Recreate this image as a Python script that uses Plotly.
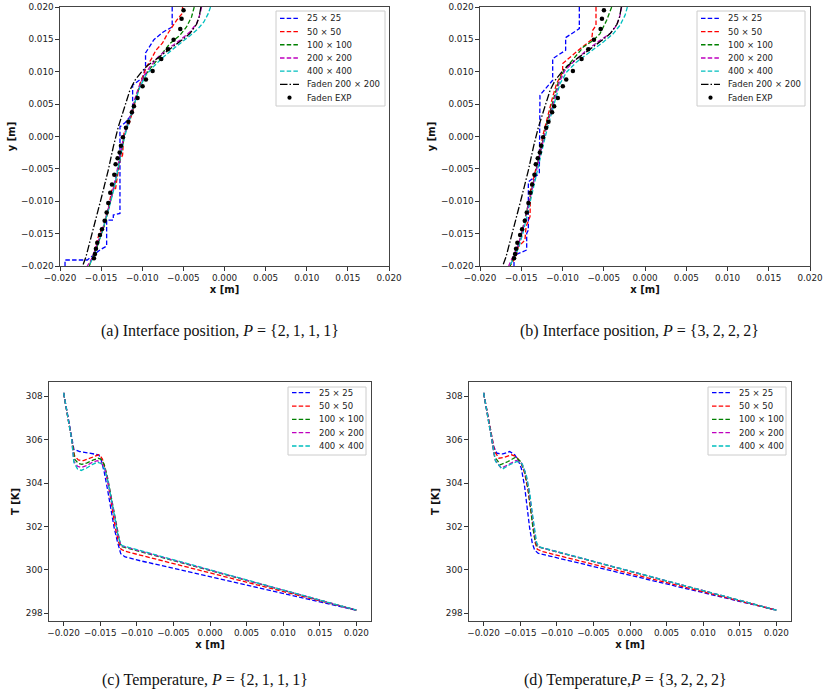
import plotly.graph_objects as go

W, H = 823, 693

# ---------------- data ----------------
SERIES_LABELS = ["25 × 25", "50 × 50", "100 × 100", "200 × 200", "400 × 400"]
FADEN_SIM_LABEL = "Faden 200 × 200"
FADEN_EXP_LABEL = "Faden EXP"
SERIES_COLORS = ["#0000ff", "#ff0000", "#008000", "#bf00bf", "#00bfbf"]

CAPTIONS = [
    "(a) Interface position, <i>P</i> = {2,\u20091,\u20091,\u20091}",
    "(b) Interface position, <i>P</i> = {3,\u20092,\u20092,\u20092}",
    "(c) Temperature, <i>P</i> = {2,\u20091,\u20091,\u20091}",
    "(d) Temperature,<i>P</i> = {3,\u20092,\u20092,\u20092}",
]

# Faden reference data (same in panels a and b)
faden_exp_x = [-0.00498, -0.00522, -0.00538, -0.00619, -0.00688, -0.00769, -0.00874, -0.00955,
               -0.00996, -0.01057, -0.01101, -0.01126, -0.0117, -0.01198, -0.01235, -0.01259,
               -0.01275, -0.013, -0.01324, -0.0134, -0.01368, -0.01389, -0.01413, -0.01433,
               -0.01457, -0.0149, -0.01514, -0.01547, -0.01563, -0.01575, -0.01587]
faden_exp_y = [0.01949, 0.0182, 0.0166, 0.01496, 0.01347, 0.01198, 0.01013, 0.00879,
               0.00776, 0.00596, 0.00468, 0.00375, 0.00226, 0.00134, -0.0001, -0.00144,
               -0.00247, -0.00334, -0.00427, -0.00591, -0.0074, -0.00869, -0.01028, -0.01172,
               -0.013, -0.01434, -0.01522, -0.0164, -0.01733, -0.01815, -0.01881]
faden_sim_x = [-0.00287, -0.00308, -0.0034, -0.00421, -0.00522, -0.00684, -0.00826, -0.00947,
               -0.01008, -0.01089, -0.0115, -0.01291, -0.01352, -0.01413, -0.01494, -0.01555,
               -0.01628, -0.01684, -0.01725]
faden_sim_y = [0.02, 0.01846, 0.01733, 0.01589, 0.01486, 0.01332, 0.01203, 0.01085,
               0.00997, 0.00869, 0.00715, 0.00149, -0.00159, -0.00519, -0.0093, -0.01239,
               -0.01599, -0.01856, -0.02]

# Panel (a): interface position, P = {2,1,1,1}
a25_x = [-0.00636, -0.00636, -0.00745, -0.00858, -0.0096, -0.0096, -0.00992, -0.01117, -0.01117,
         -0.0121, -0.01271, -0.01271, -0.01352, -0.01352, -0.01433, -0.01433, -0.01514, -0.01668,
         -0.01939, -0.01939]
a25_y = [0.02, 0.01692, 0.01614, 0.01496, 0.0129, 0.01085, 0.0091, 0.00792, 0.00355,
         0.00211, 0.00149, -0.01188, -0.01213, -0.0129, -0.0129, -0.01691, -0.01753, -0.01907,
         -0.01907, -0.02]
a50_x = [-0.0051, -0.0051, -0.00583, -0.00636, -0.00704, -0.00753, -0.00834, -0.00887, -0.00947,
         -0.00988, -0.01028, -0.01069, -0.01109, -0.01158, -0.01223, -0.01239, -0.01239, -0.01271,
         -0.01291, -0.01312, -0.01324, -0.01372, -0.01393, -0.01425, -0.01466, -0.01522, -0.01547,
         -0.01587, -0.01628, -0.01636]
a50_y = [0.02, 0.01907, 0.01794, 0.01692, 0.01563, 0.01445, 0.01332, 0.01203, 0.01075,
         0.00946, 0.00817, 0.00612, 0.00406, 0.002, 0.00046, -0.00211, -0.00288, -0.00365,
         -0.00571, -0.00699, -0.00802, -0.00828, -0.00982, -0.01188, -0.01393, -0.01496, -0.01599,
         -0.01805, -0.01933, -0.02]
a100_x = [-0.00368, -0.00401, -0.00462, -0.00543, -0.00664, -0.00785, -0.00887, -0.0098, -0.01036,
          -0.01089, -0.0113, -0.01182, -0.01223, -0.01251, -0.01279, -0.01312, -0.01344, -0.01381,
          -0.01421, -0.01466, -0.01514, -0.01563, -0.01615, -0.01644]
a100_y = [0.02, 0.01846, 0.01692, 0.01563, 0.01434, 0.01229, 0.01075, 0.0092, 0.00766,
          0.0056, 0.00355, 0.00175, -0.00005, -0.00211, -0.00416, -0.00622, -0.00776, -0.00982,
          -0.01188, -0.01393, -0.01573, -0.01753, -0.01907, -0.02]
a200_x = [-0.00279, -0.00296, -0.0034, -0.00421, -0.00543, -0.00684, -0.00806, -0.00907, -0.00988,
          -0.01049, -0.01101, -0.01142, -0.0119, -0.01231, -0.01259, -0.01291, -0.01324, -0.0136,
          -0.01401, -0.01449, -0.01502, -0.01555, -0.01611, -0.01668]
a200_y = [0.02, 0.01897, 0.01743, 0.01614, 0.01486, 0.01357, 0.01229, 0.01075, 0.0092,
          0.0074, 0.00535, 0.00329, 0.00149, -0.00031, -0.00236, -0.00442, -0.00648, -0.00853,
          -0.01059, -0.0129, -0.01496, -0.01702, -0.01882, -0.02]
a400_x = [-0.0017, -0.00198, -0.00251, -0.0032, -0.00413, -0.00522, -0.00644, -0.00765, -0.00866,
          -0.00955, -0.01028, -0.01081, -0.01126, -0.01174, -0.01215, -0.01247, -0.01279, -0.01312,
          -0.01348, -0.01389, -0.01433, -0.01482, -0.01534, -0.01587, -0.01644]
a400_y = [0.02, 0.01897, 0.01769, 0.01666, 0.01563, 0.0146, 0.01332, 0.01203, 0.01075,
          0.00946, 0.00766, 0.0056, 0.00355, 0.00175, -0.00005, -0.00211, -0.00416, -0.00622,
          -0.00828, -0.01033, -0.01239, -0.01445, -0.0165, -0.0183, -0.02]

# Panel (b): interface position, P = {3,2,2,2}
b25_x = [-0.00796, -0.00796, -0.00962, -0.00962, -0.01119, -0.01119, -0.01273, -0.01281, -0.01414,
         -0.01414, -0.01434, -0.01434, -0.01576, -0.01588, -0.01588]
b25_y = [0.02, 0.01666, 0.01527, 0.01332, 0.01203, 0.00869, 0.00638, -0.00571, -0.00699,
         -0.01445, -0.01496, -0.01753, -0.0183, -0.01856, -0.02]
b50_x = [-0.00594, -0.00594, -0.00634, -0.00646, -0.00808, -0.00949, -0.00998, -0.00998, -0.01071,
         -0.01119, -0.0116, -0.012, -0.01232, -0.01265, -0.01305, -0.01345, -0.01386, -0.01394,
         -0.01442, -0.01455, -0.01535, -0.01564, -0.01636]
b50_y = [0.02, 0.01717, 0.0164, 0.01496, 0.01332, 0.01177, 0.01126, 0.00997, 0.00817,
         0.00612, 0.00406, 0.00226, 0.00046, -0.00159, -0.00416, -0.00622, -0.00776, -0.01239,
         -0.01393, -0.01599, -0.01702, -0.01856, -0.02]
b100_x = [-0.00404, -0.00424, -0.00465, -0.00545, -0.00626, -0.00747, -0.00869, -0.00982, -0.0105,
          -0.01103, -0.01152, -0.012, -0.0124, -0.01281, -0.01321, -0.01362, -0.01402, -0.01442,
          -0.01487, -0.01535, -0.01588, -0.01636]
b100_y = [0.02, 0.01923, 0.01794, 0.01589, 0.01486, 0.01383, 0.01203, 0.01023, 0.00843,
          0.00612, 0.0038, 0.00149, -0.00057, -0.00288, -0.00519, -0.00751, -0.00982, -0.01213,
          -0.01445, -0.01676, -0.01856, -0.02]
b200_x = [-0.00283, -0.00303, -0.00343, -0.00424, -0.00545, -0.00707, -0.00848, -0.0097, -0.01038,
          -0.01091, -0.01143, -0.01192, -0.01232, -0.01273, -0.01313, -0.01354, -0.01394, -0.01434,
          -0.01483, -0.01535, -0.01596, -0.01653]
b200_y = [0.02, 0.01871, 0.01717, 0.01589, 0.01486, 0.01332, 0.01177, 0.01023, 0.00843,
          0.00612, 0.0038, 0.00149, -0.00057, -0.00288, -0.00519, -0.00751, -0.00982, -0.01213,
          -0.01445, -0.01676, -0.01856, -0.02]
b400_x = [-0.00214, -0.00242, -0.00303, -0.00384, -0.00505, -0.00667, -0.00828, -0.00949, -0.0103,
          -0.01083, -0.01135, -0.01184, -0.01224, -0.01265, -0.01305, -0.01345, -0.01386, -0.0143,
          -0.01475, -0.01527, -0.01588, -0.01644]
b400_y = [0.02, 0.01871, 0.01717, 0.01589, 0.0146, 0.01306, 0.01152, 0.00997, 0.00817,
          0.00586, 0.00355, 0.00123, -0.00082, -0.00314, -0.00545, -0.00776, -0.01008, -0.01239,
          -0.0147, -0.01702, -0.01882, -0.02]

# Panel (c): temperature, P = {2,1,1,1}
c25_x = [-0.02, -0.0193, -0.0189, -0.0186, -0.0178, -0.0168, -0.0158, -0.0152, -0.0149, -0.01445,
         -0.0140, -0.01355, -0.0131, -0.01265, -0.0122, -0.0116, -0.0095, 0.02]
c25_T = [308.15, 306.9, 306.0, 305.55, 305.45, 305.38, 305.33, 305.3, 305.1, 304.5,
         303.7, 302.8, 301.95, 301.3, 300.75, 300.6, 300.42, 298.15]
c50_x = [-0.02, -0.0193, -0.0189, -0.0185, -0.0180, -0.0173, -0.0165, -0.0157, -0.0152, -0.0149,
         -0.0147, -0.0143, -0.01385, -0.0134, -0.01295, -0.0125, -0.01215, -0.0115, 0.02]
c50_T = [308.15, 306.9, 306.0, 305.25, 305.06, 305.03, 305.14, 305.26, 305.3, 305.2,
         305.1, 304.6, 303.85, 302.9, 301.95, 301.3, 300.95, 300.85, 298.15]
c100_x = [-0.02, -0.0193, -0.0189, -0.0185, -0.0180, -0.0175, -0.0168, -0.0160, -0.0153, -0.0149,
          -0.01445, -0.0140, -0.01355, -0.0131, -0.01265, -0.01228, -0.01205, 0.02]
c100_T = [308.15, 306.9, 306.0, 305.1, 304.9, 304.86, 304.93, 305.05, 305.14, 305.1,
          304.85, 304.25, 303.45, 302.55, 301.7, 301.2, 301.07, 298.15]
c200_x = [-0.02, -0.0193, -0.0189, -0.0186, -0.0181, -0.0176, -0.0169, -0.0161, -0.0154, -0.0149,
          -0.0144, -0.01395, -0.0135, -0.01305, -0.0126, -0.01225, -0.01203, 0.02]
c200_T = [308.15, 306.9, 306.0, 305.0, 304.77, 304.72, 304.8, 304.95, 305.03, 304.95,
          304.7, 304.1, 303.35, 302.5, 301.65, 301.2, 301.1, 298.15]
c400_x = [-0.02, -0.0193, -0.0189, -0.0186, -0.0181, -0.0176, -0.0169, -0.0161, -0.0154, -0.0149,
          -0.0144, -0.01393, -0.01348, -0.01303, -0.01258, -0.01222, -0.0120, 0.02]
c400_T = [308.15, 306.9, 306.0, 304.95, 304.65, 304.58, 304.68, 304.85, 304.96, 304.9,
          304.65, 304.05, 303.3, 302.45, 301.6, 301.2, 301.12, 298.15]

# Panel (d): temperature, P = {3,2,2,2}
d25_x = [-0.02, -0.01918, -0.01863, -0.01818, -0.01736, -0.01645, -0.01576, -0.01531, -0.01485,
         -0.0144, -0.01408, -0.01371, -0.01335, -0.01303, -0.01257, -0.01098, 0.02]
d25_T = [308.15, 306.6, 305.68, 305.37, 305.34, 305.45, 305.3, 305.07, 304.68,
         303.84, 302.92, 301.92, 301.23, 300.92, 300.77, 300.64, 298.15]
d50_x = [-0.02, -0.01918, -0.0185, -0.0179, -0.01713, -0.01622, -0.01554, -0.01485, -0.0144,
         -0.01394, -0.01358, -0.01326, -0.01294, -0.01267, -0.01189, 0.02]
d50_T = [308.15, 306.6, 305.45, 305.14, 305.19, 305.3, 305.22, 304.91, 304.45,
         303.68, 302.76, 301.84, 301.23, 300.95, 300.84, 298.15]
d100_x = [-0.02, -0.01918, -0.0185, -0.01772, -0.01667, -0.01563, -0.01494, -0.0144, -0.01394,
          -0.01358, -0.01326, -0.01294, -0.01267, 0.02]
d100_T = [308.15, 306.6, 305.22, 304.84, 304.99, 305.19, 304.99, 304.53, 303.76,
          302.84, 301.92, 301.3, 301.07, 298.15]
d200_x = [-0.02, -0.01918, -0.01841, -0.01759, -0.01645, -0.01554, -0.01481, -0.01426, -0.0138,
          -0.01344, -0.01312, -0.01285, -0.01257, 0.02]
d200_T = [308.15, 306.6, 305.04, 304.68, 304.88, 305.04, 304.91, 304.45, 303.65,
          302.69, 301.84, 301.3, 301.07, 298.15]
d400_x = [-0.02, -0.01918, -0.01836, -0.01745, -0.01645, -0.01544, -0.01472, -0.01417, -0.01371,
          -0.01335, -0.01303, -0.01276, -0.01248, 0.02]
d400_T = [308.15, 306.6, 304.99, 304.64, 304.84, 304.99, 304.88, 304.37, 303.56,
          302.61, 301.76, 301.26, 301.07, 298.15]

INTERFACE_TICKS = [-0.02, -0.015, -0.01, -0.005, 0.0, 0.005, 0.01, 0.015, 0.02]
TEMP_TICKS = [298, 300, 302, 304, 306, 308]

# ---------------- styling / layout ----------------
DASH = "4.5px,2.2px"
DASHDOT = "7.5px,2px,1.5px,2px"
LW = 1.3
TICK_FONT = dict(family="DejaVu Sans", size=8.8, color="#222")
TITLE_FONT = dict(family="DejaVu Sans", size=10, color="#111", weight="bold")


def px_x(p):
    return p / W


def px_y(p):
    return 1 - p / H


# plot-area rectangles in pixels (left, right, top, bottom)
PANELS = {
    "a": (60, 389, 7, 266),
    "b": (480, 810, 7, 266),
    "c": (49, 371, 382, 621),
    "d": (469, 791, 382, 621),
}
AXES = {"a": ("x", "y"), "b": ("x2", "y2"), "c": ("x3", "y3"), "d": ("x4", "y4")}

fig = go.Figure()


def add_line(panel, x, y, color, dash, name, width=LW):
    xa, ya = AXES[panel]
    fig.add_trace(go.Scatter(x=x, y=y, mode="lines", name=name, showlegend=False,
                             line=dict(color=color, dash=dash, width=width),
                             xaxis=xa, yaxis=ya, hoverinfo="skip"))


def add_dots(panel, x, y, name):
    xa, ya = AXES[panel]
    fig.add_trace(go.Scatter(x=x, y=y, mode="markers", name=name, showlegend=False,
                             marker=dict(color="black", size=4.5),
                             xaxis=xa, yaxis=ya, hoverinfo="skip"))


interface_a = [(a25_x, a25_y), (a50_x, a50_y), (a100_x, a100_y), (a200_x, a200_y), (a400_x, a400_y)]
interface_b = [(b25_x, b25_y), (b50_x, b50_y), (b100_x, b100_y), (b200_x, b200_y), (b400_x, b400_y)]
temp_c = [(c25_x, c25_T), (c50_x, c50_T), (c100_x, c100_T), (c200_x, c200_T), (c400_x, c400_T)]
temp_d = [(d25_x, d25_T), (d50_x, d50_T), (d100_x, d100_T), (d200_x, d200_T), (d400_x, d400_T)]

for panel, series in (("a", interface_a), ("b", interface_b)):
    for (xs, ys), lab, col in zip(series, SERIES_LABELS, SERIES_COLORS):
        add_line(panel, xs, ys, col, DASH, lab)
    add_line(panel, faden_sim_x, faden_sim_y, "black", DASHDOT, FADEN_SIM_LABEL)
    add_dots(panel, faden_exp_x, faden_exp_y, FADEN_EXP_LABEL)

for panel, series in (("c", temp_c), ("d", temp_d)):
    for (xs, ys), lab, col in zip(series, SERIES_LABELS, SERIES_COLORS):
        add_line(panel, xs, ys, col, DASH, lab)


def axis_common():
    return dict(showline=True, mirror=True, linecolor="#444", linewidth=1.2,
                ticks="outside", ticklen=3.5, tickwidth=1, tickcolor="#333",
                showgrid=False, zeroline=False, tickfont=TICK_FONT, tickangle=0,
                tickformat=".3f", fixedrange=True, automargin=False,
                ticklabeloverflow="allow")


layout = dict(width=W, height=H, margin=dict(l=0, r=0, t=0, b=0, autoexpand=False),
              paper_bgcolor="white", plot_bgcolor="white", showlegend=False)

for panel, (l, r, t, b) in PANELS.items():
    xa, ya = AXES[panel]
    xk = "xaxis" + xa[1:]
    yk = "yaxis" + ya[1:]
    xd = axis_common()
    yd = axis_common()
    xd.update(domain=[px_x(l), px_x(r)], anchor=ya,
              title=dict(text="x [m]", font=TITLE_FONT, standoff=3))
    yd.update(domain=[px_y(b), px_y(t)], anchor=xa)
    if panel in ("a", "b"):
        xd.update(range=[-0.02, 0.02], tickvals=INTERFACE_TICKS)
        yd.update(range=[-0.02, 0.02], tickvals=INTERFACE_TICKS,
                  title=dict(text="y [m]", font=TITLE_FONT, standoff=3))
    else:
        xd.update(range=[-0.022, 0.022], tickvals=INTERFACE_TICKS)
        yd.update(range=[297.65, 308.65], tickvals=TEMP_TICKS, tickformat="d",
                  title=dict(text="T [K]", font=TITLE_FONT, standoff=4))
    layout[xk] = xd
    layout[yk] = yd

fig.update_layout(**layout)

# ---------------- legends (compact, matplotlib-like) ----------------
LEG_FONT = dict(family="DejaVu Sans", size=8.5, color="#222")


def draw_legend(box, sample_x0, row0, step, entries):
    l, r, t, b = box
    fig.add_shape(type="rect", xref="paper", yref="paper",
                  x0=px_x(l), x1=px_x(r), y0=px_y(b), y1=px_y(t),
                  line=dict(color="#cccccc", width=1), fillcolor="rgba(255,255,255,0.85)")
    for i, (label, color, kind) in enumerate(entries):
        yy = row0 + i * step
        if kind == "dots":
            cx = sample_x0 + 9.5
            fig.add_shape(type="circle", xref="paper", yref="paper",
                          x0=px_x(cx - 2.1), x1=px_x(cx + 2.1),
                          y0=px_y(yy + 2.1), y1=px_y(yy - 2.1),
                          line=dict(color="black", width=0), fillcolor="black")
        else:
            fig.add_shape(type="line", xref="paper", yref="paper",
                          x0=px_x(sample_x0), x1=px_x(sample_x0 + 19),
                          y0=px_y(yy), y1=px_y(yy),
                          line=dict(color=color, width=LW, dash=DASH if kind == "dash" else DASHDOT))
        fig.add_annotation(x=px_x(sample_x0 + 25), y=px_y(yy), xref="paper", yref="paper",
                           text=label, showarrow=False, xanchor="left", yanchor="middle",
                           font=LEG_FONT)


interface_entries = [(lab, col, "dash") for lab, col in zip(SERIES_LABELS, SERIES_COLORS)]
interface_entries += [(FADEN_SIM_LABEL, "black", "dashdot"), (FADEN_EXP_LABEL, "black", "dots")]
temp_entries = [(lab, col, "dash") for lab, col in zip(SERIES_LABELS, SERIES_COLORS)]

draw_legend((276, 385, 11, 106), 280, 18.3, 13.23, interface_entries)
draw_legend((697, 805, 11, 106), 701, 18.3, 13.23, interface_entries)
draw_legend((288, 366, 387, 455), 292, 392.7, 13.33, temp_entries)
draw_legend((708, 786, 387, 455), 712, 392.7, 13.33, temp_entries)

# ---------------- captions ----------------
CAP_FONT = dict(family="Liberation Serif", size=16, color="#111")
for text, (cx, cy) in zip(CAPTIONS, [(220, 331), (639, 331), (205, 680), (625, 680)]):
    fig.add_annotation(x=px_x(cx), y=px_y(cy), xref="paper", yref="paper", text=text,
                       showarrow=False, xanchor="center", yanchor="middle", font=CAP_FONT)

# remove the browser's default body margin so the figure sits at the window origin
fig.write_html("out.html", config={"displayModeBar": False},
               post_script="document.body.style.margin='0';document.body.style.overflow='hidden';")
